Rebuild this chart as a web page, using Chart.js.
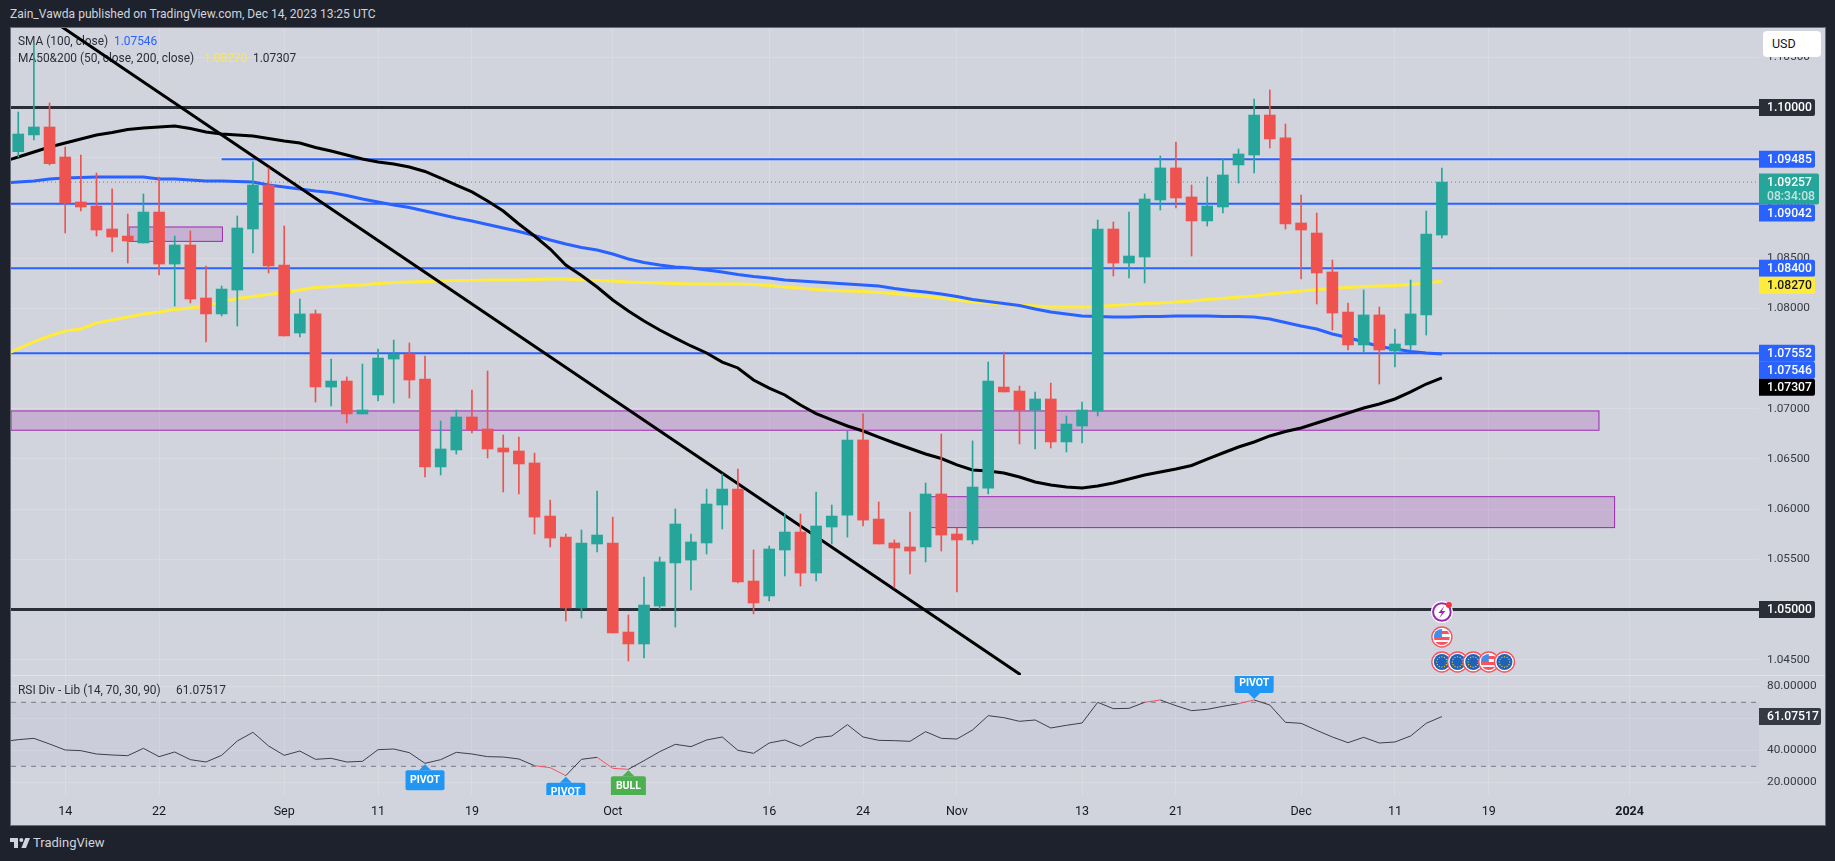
<!DOCTYPE html>
<html>
<head>
<meta charset="utf-8">
<title>EURUSD</title>
<script src="https://cdn.jsdelivr.net/npm/chart.js@4/dist/chart.umd.min.js"></script>
<style>
    html, body { margin: 0; padding: 0; width: 1835px; height: 861px; overflow: hidden; background: #1e222d; }
    body, div, span { font-family: Roboto, sans-serif; }
    .abs { position: absolute; white-space: pre; }
    #pane { position: absolute; left: 10px; top: 27px; width: 1816px; height: 799px; background: #d1d4dc; border: 1px solid #6a6d78; box-sizing: border-box; }
    canvas { position: absolute; }
</style>
</head>
<body>
<div id="pane"></div>
<div class="abs" style="left:10px;top:7px;font-size:12.05px;color:#d1d4dc">Zain_Vawda published on TradingView.com, Dec 14, 2023 13:25 UTC</div>
<div style="position:absolute;left:11px;top:675px;width:1814px;height:1px;background:#e0e3eb"></div>
<canvas id="mainChart" width="1814" height="647" style="left:11px;top:28px"></canvas>
<canvas id="rsiChart" width="1814" height="149" style="left:11px;top:676px"></canvas>
<div class="abs" style="left:1763px;top:31px;width:58px;height:26px;background:#fff;border-radius:4px;font-size:12.5px;line-height:26px;color:#131722;text-indent:9px">USD</div>
<svg style="position:absolute;left:10px;top:838px" width="20" height="10" viewBox="2 6 30 15"><path fill="#d1d4dc" d="M14 6H2v6h6v9h6V6Zm12 15h-7l6-15h7l-6 15Zm-7-9a3 3 0 1 0 0-6 3 3 0 0 0 0 6Z"/></svg>
<div class="abs" style="left:33px;top:835px;font-size:13px;color:#d1d4dc">TradingView</div>

<script>
// bar numbers: 0 is Aug 14, candles start three bars before that
const candleStart = -3;
const lineStart = -4;
const xMin = -3.464;
const xMax = 108.27;

const tickBars = [0, 6, 14, 20, 26, 35, 45, 51, 57, 65, 71, 79, 85, 91, 100];
const tickLabels = ['14', '22', 'Sep', '11', '19', 'Oct', '16', '24', 'Nov', '13', '21', 'Dec', '11', '19', '2024'];
const priceTicks = [1.045, 1.05, 1.055, 1.06, 1.065, 1.07, 1.075, 1.08, 1.085, 1.09, 1.095, 1.1, 1.105];
const rsiTicks = [20, 40, 60, 80];

const opens = [
    1.09560, 1.09727, 1.09806, 1.09507, 1.09059, 1.09019, 1.08790, 1.08720, 1.08651, 1.08959,
    1.08441, 1.08631, 1.08103, 1.07944, 1.08182, 1.08790, 1.09228, 1.08431, 1.07754, 1.07944,
    1.07216, 1.07276, 1.06948, 1.07137, 1.07495, 1.07545, 1.07296, 1.06420, 1.06589, 1.06918,
    1.06798, 1.06609, 1.06579, 1.06460, 1.05931, 1.05722, 1.05015, 1.05653, 1.05663, 1.04776,
    1.04657, 1.05035, 1.05464, 1.05493, 1.05663, 1.06041, 1.06200, 1.05284, 1.05135, 1.05593,
    1.05772, 1.05364, 1.05822, 1.05941, 1.06689, 1.05901, 1.05663, 1.05623, 1.05623, 1.06151,
    1.05752, 1.05693, 1.06210, 1.07216, 1.07176, 1.06987, 1.07097, 1.06669, 1.06828, 1.06978,
    1.08790, 1.08451, 1.08511, 1.09079, 1.09398, 1.09109, 1.08870, 1.09009, 1.09428, 1.09527,
    1.09925, 1.09697, 1.08850, 1.08750, 1.08362, 1.07963, 1.07635, 1.07934, 1.07575, 1.07635,
    1.07934, 1.08730
];
const highs = [
    1.09955, 1.10643, 1.10045, 1.09607, 1.09527, 1.09348, 1.09189, 1.08939, 1.09139, 1.09308,
    1.08720, 1.08770, 1.08422, 1.08222, 1.08920, 1.09458, 1.09398, 1.08820, 1.08093, 1.07983,
    1.07495, 1.07316, 1.07445, 1.07595, 1.07684, 1.07655, 1.07525, 1.06878, 1.06987, 1.07186,
    1.07376, 1.06738, 1.06718, 1.06559, 1.06091, 1.05752, 1.05792, 1.06181, 1.05921, 1.04946,
    1.05324, 1.05523, 1.06001, 1.05752, 1.06200, 1.06350, 1.06400, 1.05593, 1.05633, 1.05951,
    1.05951, 1.06171, 1.06041, 1.06778, 1.06948, 1.06071, 1.05693, 1.05971, 1.06260, 1.06748,
    1.05812, 1.06679, 1.07465, 1.07565, 1.07226, 1.07167, 1.07256, 1.06928, 1.07067, 1.08880,
    1.08860, 1.08959, 1.09139, 1.09517, 1.09657, 1.09228, 1.09308, 1.09487, 1.09587, 1.10085,
    1.10175, 1.09836, 1.09129, 1.08949, 1.08481, 1.08053, 1.08182, 1.08013, 1.07794, 1.08282,
    1.08969, 1.09398
];
const lows = [
    1.09507, 1.09677, 1.09428, 1.08750, 1.08969, 1.08720, 1.08561, 1.08451, 1.08651, 1.08332,
    1.08023, 1.08053, 1.07665, 1.07924, 1.07824, 1.08551, 1.08352, 1.07724, 1.07714, 1.07067,
    1.07027, 1.06858, 1.06948, 1.07077, 1.07057, 1.07107, 1.06320, 1.06340, 1.06549, 1.06758,
    1.06509, 1.06171, 1.06151, 1.05752, 1.05623, 1.04886, 1.04916, 1.05573, 1.04766, 1.04487,
    1.04517, 1.05005, 1.04826, 1.05195, 1.05553, 1.05802, 1.05264, 1.04956, 1.05085, 1.05334,
    1.05234, 1.05284, 1.05653, 1.05722, 1.05832, 1.05653, 1.05215, 1.05354, 1.05474, 1.05583,
    1.05175, 1.05653, 1.06151, 1.07167, 1.06649, 1.06599, 1.06609, 1.06569, 1.06659, 1.06928,
    1.08322, 1.08302, 1.08252, 1.08979, 1.08999, 1.08521, 1.08820, 1.08949, 1.09248, 1.09348,
    1.09597, 1.08790, 1.08292, 1.08043, 1.07784, 1.07585, 1.07555, 1.07246, 1.07416, 1.07585,
    1.07734, 1.08700
];
const closes = [
    1.09736, 1.09806, 1.09441, 1.09049, 1.09009, 1.08780, 1.08710, 1.08671, 1.08959, 1.08441,
    1.08631, 1.08093, 1.07944, 1.08192, 1.08800, 1.09228, 1.08422, 1.07724, 1.07944, 1.07216,
    1.07276, 1.06948, 1.06987, 1.07505, 1.07545, 1.07286, 1.06420, 1.06599, 1.06918, 1.06788,
    1.06599, 1.06569, 1.06450, 1.05921, 1.05712, 1.05015, 1.05663, 1.05742, 1.04766, 1.04657,
    1.05045, 1.05474, 1.05852, 1.05673, 1.06051, 1.06200, 1.05274, 1.05065, 1.05603, 1.05772,
    1.05364, 1.05832, 1.05931, 1.06689, 1.05891, 1.05653, 1.05613, 1.05583, 1.06151, 1.05742,
    1.05693, 1.06220, 1.07276, 1.07167, 1.06987, 1.07097, 1.06669, 1.06848, 1.06987, 1.08790,
    1.08451, 1.08521, 1.09089, 1.09398, 1.09099, 1.08870, 1.09019, 1.09328, 1.09537, 1.09925,
    1.09687, 1.08840, 1.08780, 1.08352, 1.07953, 1.07635, 1.07934, 1.07585, 1.07645, 1.07944,
    1.08740, 1.09257
];

const sma100 = [
    1.09248, 1.09258, 1.09268, 1.09288, 1.09298, 1.09303, 1.09308, 1.09308, 1.09308, 1.09308,
    1.09288, 1.09288, 1.09278, 1.09268, 1.09268, 1.09263, 1.09258, 1.09228, 1.09209, 1.09189,
    1.09169, 1.09154, 1.09124, 1.09089, 1.09059, 1.09029, 1.09004, 1.08969, 1.08935, 1.08900,
    1.08870, 1.08835, 1.08800, 1.08765, 1.08725, 1.08681, 1.08641, 1.08606, 1.08581, 1.08541,
    1.08491, 1.08456, 1.08431, 1.08412, 1.08402, 1.08382, 1.08362, 1.08337, 1.08317, 1.08302,
    1.08282, 1.08272, 1.08262, 1.08252, 1.08242, 1.08232, 1.08222, 1.08198, 1.08178, 1.08163,
    1.08143, 1.08118, 1.08088, 1.08068, 1.08048, 1.08028, 1.07993, 1.07963, 1.07944, 1.07924,
    1.07919, 1.07914, 1.07914, 1.07919, 1.07919, 1.07924, 1.07924, 1.07924, 1.07919, 1.07919,
    1.07914, 1.07894, 1.07859, 1.07824, 1.07794, 1.07744, 1.07709, 1.07665, 1.07620, 1.07595,
    1.07570, 1.07555, 1.07546
];
const ma50 = [
    1.07535, 1.07595, 1.07665, 1.07724, 1.07774, 1.07794, 1.07854, 1.07884, 1.07914, 1.07944,
    1.07963, 1.07988, 1.08003, 1.08023, 1.08063, 1.08098, 1.08118, 1.08138, 1.08158, 1.08182,
    1.08207, 1.08217, 1.08227, 1.08232, 1.08247, 1.08257, 1.08262, 1.08267, 1.08272, 1.08277,
    1.08277, 1.08282, 1.08282, 1.08282, 1.08287, 1.08292, 1.08292, 1.08282, 1.08277, 1.08272,
    1.08262, 1.08257, 1.08252, 1.08247, 1.08242, 1.08242, 1.08242, 1.08242, 1.08237, 1.08227,
    1.08212, 1.08202, 1.08188, 1.08178, 1.08173, 1.08168, 1.08158, 1.08148, 1.08133, 1.08118,
    1.08103, 1.08083, 1.08063, 1.08053, 1.08038, 1.08033, 1.08023, 1.08013, 1.08013, 1.08013,
    1.08018, 1.08028, 1.08038, 1.08048, 1.08053, 1.08063, 1.08073, 1.08088, 1.08098, 1.08113,
    1.08123, 1.08143, 1.08158, 1.08173, 1.08188, 1.08198, 1.08207, 1.08217, 1.08222, 1.08227,
    1.08237, 1.08252, 1.08270
];
const ma200 = [
    1.09458, 1.09507, 1.09557, 1.09607, 1.09647, 1.09687, 1.09727, 1.09751, 1.09781, 1.09796,
    1.09806, 1.09816, 1.09791, 1.09756, 1.09736, 1.09727, 1.09717, 1.09692, 1.09667, 1.09647,
    1.09602, 1.09567, 1.09527, 1.09487, 1.09458, 1.09438, 1.09408, 1.09363, 1.09298, 1.09228,
    1.09159, 1.09069, 1.08969, 1.08840, 1.08720, 1.08591, 1.08431, 1.08327, 1.08212, 1.08083,
    1.07973, 1.07874, 1.07784, 1.07704, 1.07625, 1.07555, 1.07465, 1.07406, 1.07286, 1.07206,
    1.07137, 1.07037, 1.06952, 1.06888, 1.06828, 1.06778, 1.06718, 1.06659, 1.06604, 1.06549,
    1.06504, 1.06440, 1.06390, 1.06380, 1.06360, 1.06320, 1.06270, 1.06240, 1.06220, 1.06210,
    1.06230, 1.06260, 1.06300, 1.06340, 1.06370, 1.06400, 1.06435, 1.06499, 1.06559, 1.06619,
    1.06669, 1.06729, 1.06773, 1.06808, 1.06858, 1.06908, 1.06958, 1.07007, 1.07047, 1.07097,
    1.07167, 1.07246, 1.07307
];
const rsi = [
    45.40, 46.65, 47.48, 43.94, 40.19, 39.77, 37.69, 37.06, 36.65, 41.23,
    36.02, 38.94, 34.15, 32.69, 36.86, 45.81, 51.23, 42.69, 36.86, 39.56,
    34.36, 34.98, 32.69, 33.11, 40.40, 40.81, 38.52, 31.86, 34.15, 38.73,
    37.69, 36.02, 35.81, 34.56, 30.40, 29.15, 24.15, 34.36, 35.61, 28.73,
    28.11, 33.52, 39.15, 43.73, 42.27, 46.44, 48.31, 39.98, 38.11, 44.56,
    46.44, 42.48, 47.90, 48.94, 56.02, 48.31, 46.23, 46.02, 45.61, 51.65,
    47.48, 47.06, 52.69, 61.65, 60.40, 58.11, 58.94, 53.94, 55.61, 57.06,
    69.98, 66.02, 66.23, 69.98, 71.44, 67.90, 64.77, 65.61, 67.48, 69.15,
    71.44, 68.31, 57.48, 56.86, 52.48, 48.31, 44.77, 48.11, 44.56, 45.19,
    48.94, 56.88, 61.08
];
// bar ranges where the rsi line turns red
const rsiRedBars = [[30, 32], [34, 36], [69, 70], [75, 76]];

const trendBars = [-0.2, 61];
const trendPrices = [1.10802, 1.04358];
const lastPrice = 1.09257;
const supportLevels = [1.09042, 1.084, 1.07552];
const resistanceStartBar = 10;
const resistanceLevel = 1.09485;
const roundLevels = [1.1, 1.05];

const boxStartBars = [4.08, xMin, 55];
const boxEndBars = [10.05, 98.04, 99.04];
const boxTops = [1.08810, 1.06978, 1.06124];
const boxBottoms = [1.08667, 1.06786, 1.05816];

const tagValues = [1.1, 1.09485, 1.09257, 1.09042, 1.084, 1.0827, 1.07552, 1.07546, 1.07307, 1.05];
const tagColors = ['#2a2e39', '#2962ff', '#26a69a', '#2962ff', '#2962ff', '#ffeb3b', '#2962ff', '#2962ff', '#000000', '#2a2e39'];
const countdown = '08:34:08';

const UP = '#26a69a';
const DOWN = '#ef5350';
const GRID = '#d8dbe2';
const FONT = 'Roboto, sans-serif';
const LEGEND_INK = '#2a2e39';

function series(values, start) {
    return values.map((v, i) => ({ x: start + i, y: v }));
}

function flat(value, from) {
    return [{ x: from, y: value }, { x: xMax, y: value }];
}

function lineSet(data, color, width, order, extra) {
    return Object.assign({
        type: 'line', data: data, borderColor: color, borderWidth: width,
        pointRadius: 0, tension: 0, order: order
    }, extra || {});
}

const candleColors = opens.map((o, i) => closes[i] >= o ? UP : DOWN);

const wicks = {
    type: 'bar', order: 1, grouped: false, barThickness: 1, borderWidth: 0,
    backgroundColor: candleColors,
    data: highs.map((h, i) => ({ x: candleStart + i, y: [lows[i], h] }))
};
const bodies = {
    type: 'bar', order: 0, grouped: false, barThickness: 11, borderWidth: 0,
    backgroundColor: candleColors,
    data: opens.map((o, i) => ({ x: candleStart + i, y: [o, closes[i]] }))
};

function xAxis(showLabels) {
    return {
        type: 'linear', min: xMin, max: xMax, offset: false,
        afterBuildTicks: axis => { axis.ticks = tickBars.map(b => ({ value: b })); },
        afterFit: axis => {
            axis.height = showLabels ? 30 : 0;
            axis.paddingLeft = 0;
            axis.paddingRight = 0;
        },
        grid: { color: GRID, drawTicks: false, offset: false },
        border: { display: false },
        ticks: {
            display: showLabels, autoSkip: false, maxRotation: 0, padding: 9, color: '#131722',
            font: ctx => ({ family: FONT, size: 12.5, weight: ctx.index == 14 ? 'bold' : 'normal' }),
            callback: (value, index) => tickLabels[index]
        }
    };
}

function yAxis(min, max, tickValues, digits) {
    return {
        type: 'linear', position: 'right', min: min, max: max,
        afterBuildTicks: axis => { axis.ticks = tickValues.map(v => ({ value: v })); },
        // the label half heights would otherwise eat into the plot height
        afterFit: axis => {
            axis.width = 66;
            axis.paddingTop = 0;
            axis.paddingBottom = 0;
        },
        grid: { color: GRID, drawTicks: false },
        border: { display: false },
        ticks: {
            padding: 8, color: '#363a45', font: { family: FONT, size: 11.8 },
            callback: value => value.toFixed(digits)
        }
    };
}

function priceTag(ctx, left, top, width, height, color) {
    ctx.fillStyle = color;
    ctx.beginPath();
    ctx.roundRect(left, top, width, height, [0, 2, 2, 0]);
    ctx.fill();
}

// pane titles go above the grid but below the lines
function drawTitles(ctx, items) {
    ctx.save();
    ctx.font = '11.9px ' + FONT;
    ctx.textAlign = 'left';
    ctx.textBaseline = 'middle';
    items.forEach(item => {
        ctx.fillStyle = item[3];
        ctx.fillText(item[0], item[1], item[2]);
    });
    ctx.restore();
}

const mainTitles = [
    ['SMA (100, close)', 7, 14, LEGEND_INK],
    ['1.07546', 103, 14, '#2962ff'],
    ['MA50&200 (50, close, 200, close)', 7, 31, LEGEND_INK],
    ['1.08270', 193, 31, '#ffeb3b'],
    ['1.07307', 242, 31, LEGEND_INK]
];
const rsiTitles = [
    ['RSI Div - Lib (14, 70, 30, 90)', 7, 15, LEGEND_INK],
    ['61.07517', 165, 15, LEGEND_INK]
];

// purple zones, they sit under every line
const boxPlugin = {
    id: 'boxes',
    beforeDatasetsDraw(chart) {
        const { ctx, scales: { x, y } } = chart;
        drawTitles(ctx, mainTitles);
        ctx.save();
        ctx.beginPath();
        ctx.rect(chart.chartArea.left, chart.chartArea.top, chart.chartArea.width, chart.chartArea.height);
        ctx.clip();
        boxTops.forEach((top, i) => {
            const l = x.getPixelForValue(boxStartBars[i]);
            const r = x.getPixelForValue(boxEndBars[i]);
            const t = y.getPixelForValue(top);
            const b = y.getPixelForValue(boxBottoms[i]);
            ctx.fillStyle = 'rgba(156,39,176,0.2)';
            ctx.fillRect(l, t, r - l, b - t);
            ctx.strokeStyle = '#9c27b0';
            ctx.lineWidth = 1;
            ctx.strokeRect(l, t, r - l, b - t);
        });
        ctx.restore();
    }
};

function drawEu(ctx, cx, cy) {
    ctx.fillStyle = '#1f62b9';
    ctx.beginPath();
    ctx.arc(cx, cy, 8, 0, Math.PI * 2);
    ctx.fill();
    ctx.fillStyle = '#e6c229';
    for (let k = 0; k < 12; k++) {
        const a = k * Math.PI / 6;
        ctx.fillRect(cx + Math.cos(a) * 5.2 - 0.6, cy + Math.sin(a) * 5.2 - 0.6, 1.2, 1.2);
    }
}

function drawUs(ctx, cx, cy) {
    ctx.save();
    ctx.beginPath();
    ctx.arc(cx, cy, 8, 0, Math.PI * 2);
    ctx.clip();
    ctx.fillStyle = '#f5f5f5';
    ctx.fillRect(cx - 8, cy - 8, 16, 16);
    ctx.fillStyle = '#f7525f';
    ctx.fillRect(cx - 8, cy - 6, 16, 3);
    ctx.fillRect(cx - 8, cy, 16, 3);
    ctx.fillRect(cx - 8, cy + 5, 16, 3);
    ctx.fillStyle = '#3d8fe8';
    ctx.fillRect(cx - 8, cy - 8, 8, 8);
    ctx.restore();
}

function drawRing(ctx, cx, cy) {
    ctx.fillStyle = '#f7525f';
    ctx.beginPath();
    ctx.arc(cx, cy, 10.7, 0, Math.PI * 2);
    ctx.fill();
    ctx.fillStyle = '#ffffff';
    ctx.beginPath();
    ctx.arc(cx, cy, 9.3, 0, Math.PI * 2);
    ctx.fill();
}

// calendar and idea markers under the last candles
const eventBars = [88, 89, 90, 91, 92];
const eventKinds = ['eu', 'eu', 'eu', 'us', 'eu'];

const eventPlugin = {
    id: 'events',
    afterDatasetsDraw(chart) {
        const { ctx, scales: { x }, chartArea } = chart;
        const rowY = chartArea.bottom - 13;
        eventBars.forEach((bar, i) => {
            const cx = x.getPixelForValue(bar);
            drawRing(ctx, cx, rowY);
            if (eventKinds[i] == 'eu') drawEu(ctx, cx, rowY); else drawUs(ctx, cx, rowY);
        });
        const cx = x.getPixelForValue(eventBars[0]);
        drawRing(ctx, cx, rowY - 25);
        drawUs(ctx, cx, rowY - 25);

        const ly = rowY - 50;
        ctx.fillStyle = '#ffffff';
        ctx.beginPath();
        ctx.arc(cx, ly, 11, 0, Math.PI * 2);
        ctx.fill();
        ctx.strokeStyle = '#9c27b0';
        ctx.lineWidth = 2;
        ctx.beginPath();
        ctx.arc(cx, ly, 8.8, 0, Math.PI * 2);
        ctx.stroke();
        ctx.fillStyle = '#9c27b0';
        ctx.beginPath();
        ctx.moveTo(cx + 2.5, ly - 6);
        ctx.lineTo(cx - 3.5, ly + 1);
        ctx.lineTo(cx, ly + 1);
        ctx.lineTo(cx - 2.5, ly + 6);
        ctx.lineTo(cx + 3.5, ly - 1);
        ctx.lineTo(cx, ly - 1);
        ctx.closePath();
        ctx.fill();
        ctx.fillStyle = '#f23645';
        ctx.beginPath();
        ctx.arc(cx + 7, ly - 7, 3, 0, Math.PI * 2);
        ctx.fill();
    }
};

// price tags on the right, pushed down when they would overlap
const tagPlugin = {
    id: 'tags',
    afterDraw(chart) {
        const { ctx, scales: { y }, chartArea } = chart;
        const left = chartArea.right;
        let lastBottom = 0;
        ctx.save();
        ctx.textBaseline = 'middle';
        ctx.textAlign = 'left';
        tagValues.forEach((value, i) => {
            const isLast = value == lastPrice;
            const h = isLast ? 31 : 17;
            const top = Math.max(y.getPixelForValue(value) - 8.5, lastBottom);
            priceTag(ctx, left, top, isLast ? 60 : 56, h, tagColors[i]);
            ctx.font = '500 12.2px ' + FONT;
            ctx.fillStyle = tagColors[i] == '#ffeb3b' ? '#131722' : '#ffffff';
            ctx.fillText(value.toFixed(5), left + 8, top + 9);
            if (isLast) {
                ctx.fillStyle = '#bfe4e0';
                ctx.fillText(countdown, left + 8, top + 23);
            }
            lastBottom = top + h;
        });
        ctx.restore();
    }
};

const mainChart = new Chart(document.getElementById('mainChart').getContext('2d'), {
    type: 'bar',
    data: {
        datasets: [
            bodies,
            wicks,
            lineSet(series(ma200, lineStart), '#000000', 3, 2),
            lineSet(series(sma100, lineStart), '#2962ff', 3, 3),
            lineSet(series(ma50, lineStart), '#ffeb3b', 3, 4),
            lineSet(trendBars.map((b, i) => ({ x: b, y: trendPrices[i] })), '#000000', 3, 2, { borderCapStyle: 'round' }),
            lineSet(flat(lastPrice, xMin), '#26a69a', 1, 5, { borderDash: [1, 3] }),
            lineSet(flat(resistanceLevel, resistanceStartBar), '#2962ff', 2, 6),
            ...supportLevels.map(v => lineSet(flat(v, xMin), '#2962ff', 2, 6)),
            ...roundLevels.map(v => lineSet(flat(v, xMin), '#2a2e39', 3, 6))
        ]
    },
    options: {
        responsive: false,
        animation: false,
        events: [],
        layout: { autoPadding: false, padding: 0 },
        plugins: { legend: { display: false }, tooltip: { enabled: false } },
        scales: {
            x: xAxis(false),
            y: yAxis(1.04348, 1.10792, priceTicks, 5)
        }
    },
    plugins: [boxPlugin, eventPlugin, tagPlugin]
});

// rsi pane
const rsiUpper = 70;
const rsiLower = 30;
const pivotBars = [23, 32, 36, 76];
const pivotTexts = ['PIVOT', 'PIVOT', 'BULL', 'PIVOT'];
const pivotColors = ['#2196f3', '#2196f3', '#4caf50', '#2196f3'];
const pivotAbove = [false, false, false, true];

const rsiPlugin = {
    id: 'rsiExtras',
    beforeDatasetsDraw(chart) {
        const { ctx, scales: { y }, chartArea } = chart;
        const t = y.getPixelForValue(rsiUpper);
        const b = y.getPixelForValue(rsiLower);
        ctx.fillStyle = 'rgba(126,87,194,0.05)';
        ctx.fillRect(chartArea.left, t, chartArea.width, b - t);
        drawTitles(ctx, rsiTitles);
    },
    afterDatasetsDraw(chart) {
        const { ctx, scales: { x, y }, chartArea } = chart;
        ctx.save();
        ctx.beginPath();
        ctx.rect(chartArea.left, chartArea.top, chartArea.width, chartArea.height);
        ctx.clip();
        pivotBars.forEach((bar, i) => {
            const cx = x.getPixelForValue(bar);
            const point = y.getPixelForValue(rsi[bar - lineStart]);
            const dir = pivotAbove[i] ? -1 : 1;
            const w = pivotTexts[i] == 'BULL' ? 35 : 39;
            const tipY = point + dir * 1;
            const nearY = tipY + dir * 6;
            const farY = nearY + dir * 20;
            ctx.fillStyle = pivotColors[i];
            ctx.beginPath();
            ctx.moveTo(cx, tipY);
            ctx.lineTo(cx - 6, nearY);
            ctx.lineTo(cx + 6, nearY);
            ctx.closePath();
            ctx.fill();
            ctx.beginPath();
            ctx.roundRect(cx - w / 2, Math.min(nearY, farY), w, 20, 2);
            ctx.fill();
            ctx.fillStyle = '#ffffff';
            ctx.font = 'bold 10.5px ' + FONT;
            ctx.textAlign = 'center';
            ctx.textBaseline = 'middle';
            ctx.fillText(pivotTexts[i], cx, (nearY + farY) / 2);
        });
        ctx.restore();
    },
    afterDraw(chart) {
        const { ctx, scales: { y }, chartArea } = chart;
        const value = rsi[rsi.length - 1];
        const top = y.getPixelForValue(value) - 8.5;
        priceTag(ctx, chartArea.right, top, 62, 17, '#363a45');
        ctx.fillStyle = '#ffffff';
        ctx.font = '500 12.2px ' + FONT;
        ctx.textAlign = 'left';
        ctx.textBaseline = 'middle';
        ctx.fillText('61.07517', chartArea.right + 8, top + 9);
    }
};

function rsiSegmentColor(ctx) {
    const bar = lineStart + ctx.p0DataIndex;
    return rsiRedBars.some(r => bar >= r[0] && bar < r[1]) ? '#f7525f' : '#3c3f4a';
}

const rsiChart = new Chart(document.getElementById('rsiChart').getContext('2d'), {
    type: 'line',
    data: {
        datasets: [
            lineSet(series(rsi, lineStart), '#3c3f4a', 1, 0, { segment: { borderColor: rsiSegmentColor } }),
            lineSet(flat(rsiUpper, xMin), '#787b86', 1, 1, { borderDash: [5, 5] }),
            lineSet(flat(rsiLower, xMin), '#787b86', 1, 1, { borderDash: [5, 5] })
        ]
    },
    options: {
        responsive: false,
        animation: false,
        events: [],
        layout: { autoPadding: false, padding: 0 },
        plugins: { legend: { display: false }, tooltip: { enabled: false } },
        scales: {
            x: xAxis(true),
            y: yAxis(12.06, 86.44, rsiTicks, 5)
        }
    },
    plugins: [rsiPlugin]
});
</script>
</body>
</html>
